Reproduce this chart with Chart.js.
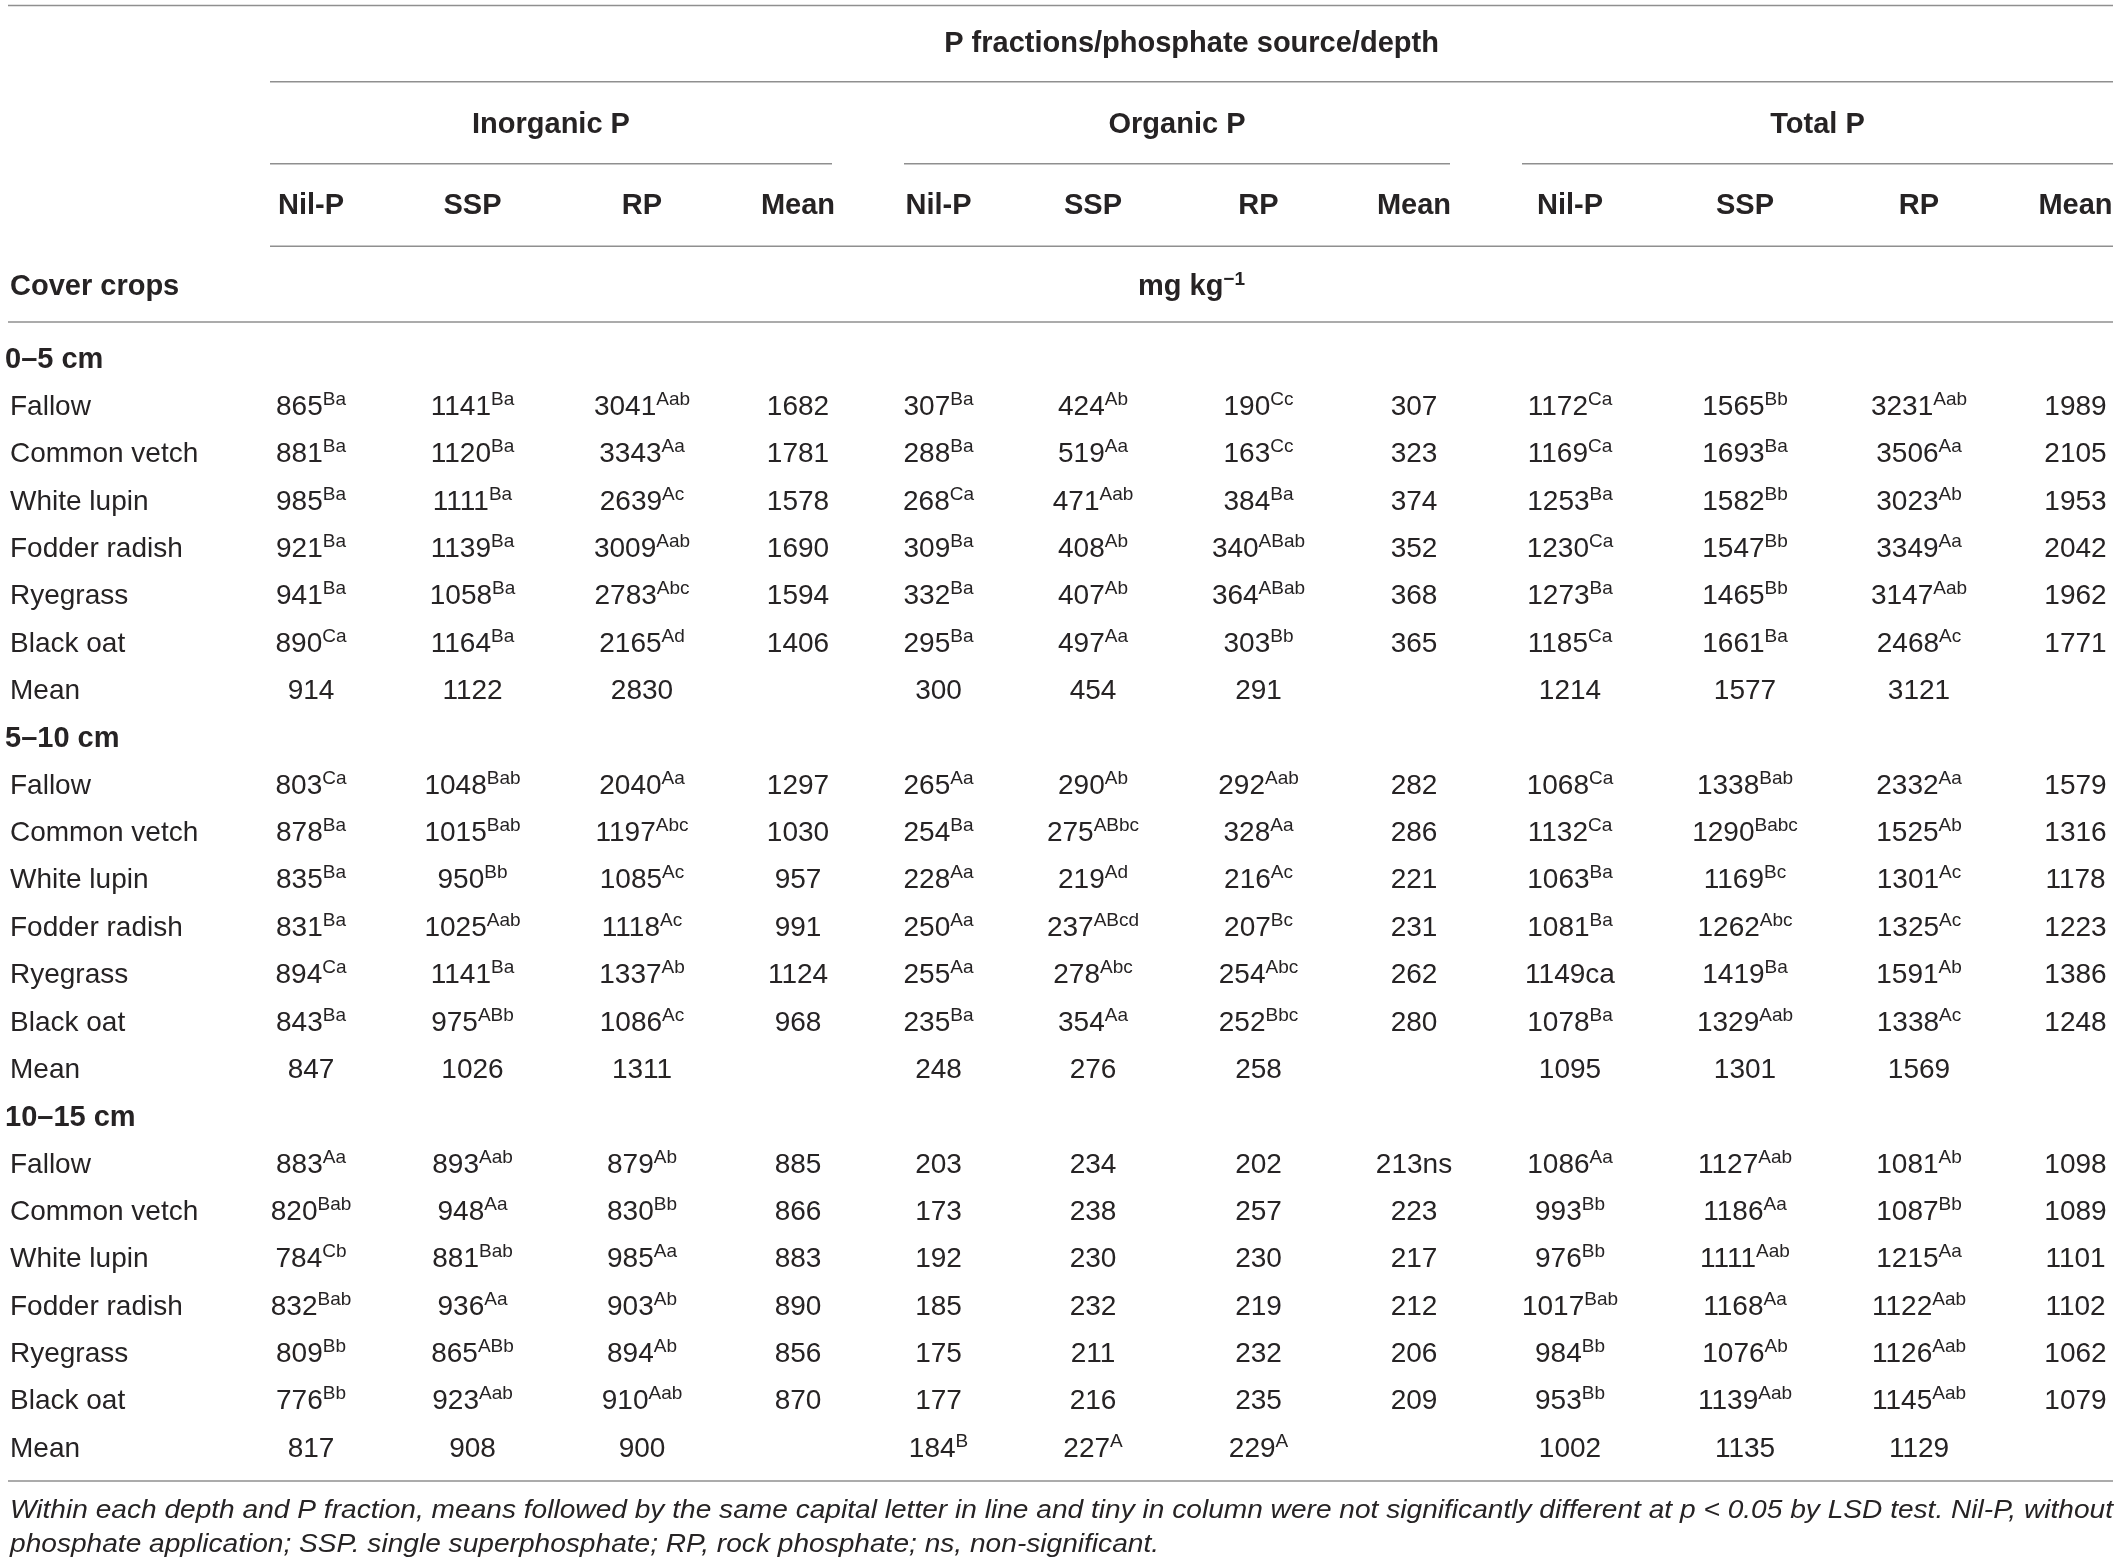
<!DOCTYPE html>
<html>
<head>
<meta charset="utf-8">
<title>P fractions by cover crop, phosphate source and depth</title>
<script src="https://cdn.jsdelivr.net/npm/chart.js@4.4.1/dist/chart.umd.min.js"></script>
<style>
  html, body { margin: 0; padding: 0; background: #fff; }
  #wrap { width: 2121px; height: 1567px; position: relative; }
</style>
</head>
<body>
<div id="wrap"><canvas id="table"></canvas></div>
<script>
// Table values as printed; "^" starts the superscript letters
const depths = ['0–5 cm', '5–10 cm', '10–15 cm'];
const crops = ['Fallow', 'Common vetch', 'White lupin', 'Fodder radish', 'Ryegrass', 'Black oat'];
const meanLabel = 'Mean';
const fractions = ['Inorganic P', 'Organic P', 'Total P'];
const sources = ['Nil-P', 'SSP', 'RP', 'Mean'];
const spanTitle = 'P fractions/phosphate source/depth';
const rowTitle = 'Cover crops';
const unitTitle = 'mg kg^\u22121';
const footnote = [
    'Within each depth and P fraction, means followed by the same capital letter in line and tiny in column were not significantly different at p < 0.05 by LSD test. Nil-P, without',
    'phosphate application; SSP. single superphosphate; RP, rock phosphate; ns, non-significant.'
];

// rows: the six crops, then Mean; columns: Nil-P, SSP, RP, Mean
const inorganic0to5 = [
    ['865^Ba', '1141^Ba', '3041^Aab', '1682'],
    ['881^Ba', '1120^Ba', '3343^Aa', '1781'],
    ['985^Ba', '1111^Ba', '2639^Ac', '1578'],
    ['921^Ba', '1139^Ba', '3009^Aab', '1690'],
    ['941^Ba', '1058^Ba', '2783^Abc', '1594'],
    ['890^Ca', '1164^Ba', '2165^Ad', '1406'],
    ['914', '1122', '2830', '']
];
const organic0to5 = [
    ['307^Ba', '424^Ab', '190^Cc', '307'],
    ['288^Ba', '519^Aa', '163^Cc', '323'],
    ['268^Ca', '471^Aab', '384^Ba', '374'],
    ['309^Ba', '408^Ab', '340^ABab', '352'],
    ['332^Ba', '407^Ab', '364^ABab', '368'],
    ['295^Ba', '497^Aa', '303^Bb', '365'],
    ['300', '454', '291', '']
];
const total0to5 = [
    ['1172^Ca', '1565^Bb', '3231^Aab', '1989'],
    ['1169^Ca', '1693^Ba', '3506^Aa', '2105'],
    ['1253^Ba', '1582^Bb', '3023^Ab', '1953'],
    ['1230^Ca', '1547^Bb', '3349^Aa', '2042'],
    ['1273^Ba', '1465^Bb', '3147^Aab', '1962'],
    ['1185^Ca', '1661^Ba', '2468^Ac', '1771'],
    ['1214', '1577', '3121', '']
];
const inorganic5to10 = [
    ['803^Ca', '1048^Bab', '2040^Aa', '1297'],
    ['878^Ba', '1015^Bab', '1197^Abc', '1030'],
    ['835^Ba', '950^Bb', '1085^Ac', '957'],
    ['831^Ba', '1025^Aab', '1118^Ac', '991'],
    ['894^Ca', '1141^Ba', '1337^Ab', '1124'],
    ['843^Ba', '975^ABb', '1086^Ac', '968'],
    ['847', '1026', '1311', '']
];
const organic5to10 = [
    ['265^Aa', '290^Ab', '292^Aab', '282'],
    ['254^Ba', '275^ABbc', '328^Aa', '286'],
    ['228^Aa', '219^Ad', '216^Ac', '221'],
    ['250^Aa', '237^ABcd', '207^Bc', '231'],
    ['255^Aa', '278^Abc', '254^Abc', '262'],
    ['235^Ba', '354^Aa', '252^Bbc', '280'],
    ['248', '276', '258', '']
];
const total5to10 = [
    ['1068^Ca', '1338^Bab', '2332^Aa', '1579'],
    ['1132^Ca', '1290^Babc', '1525^Ab', '1316'],
    ['1063^Ba', '1169^Bc', '1301^Ac', '1178'],
    ['1081^Ba', '1262^Abc', '1325^Ac', '1223'],
    ['1149ca', '1419^Ba', '1591^Ab', '1386'],
    ['1078^Ba', '1329^Aab', '1338^Ac', '1248'],
    ['1095', '1301', '1569', '']
];
const inorganic10to15 = [
    ['883^Aa', '893^Aab', '879^Ab', '885'],
    ['820^Bab', '948^Aa', '830^Bb', '866'],
    ['784^Cb', '881^Bab', '985^Aa', '883'],
    ['832^Bab', '936^Aa', '903^Ab', '890'],
    ['809^Bb', '865^ABb', '894^Ab', '856'],
    ['776^Bb', '923^Aab', '910^Aab', '870'],
    ['817', '908', '900', '']
];
const organic10to15 = [
    ['203', '234', '202', '213ns'],
    ['173', '238', '257', '223'],
    ['192', '230', '230', '217'],
    ['185', '232', '219', '212'],
    ['175', '211', '232', '206'],
    ['177', '216', '235', '209'],
    ['184^B', '227^A', '229^A', '']
];
const total10to15 = [
    ['1086^Aa', '1127^Aab', '1081^Ab', '1098'],
    ['993^Bb', '1186^Aa', '1087^Bb', '1089'],
    ['976^Bb', '1111^Aab', '1215^Aa', '1101'],
    ['1017^Bab', '1168^Aa', '1122^Aab', '1102'],
    ['984^Bb', '1076^Ab', '1126^Aab', '1062'],
    ['953^Bb', '1139^Aab', '1145^Aab', '1079'],
    ['1002', '1135', '1129', '']
];

// ---- layout: x in table units, y in row steps (row 0 = first depth heading) ----
const colX = [311, 472.5, 642, 798, 938.5, 1093, 1258.5, 1414, 1570, 1745, 1919, 2075.5];
const groupSpans = [[270, 832], [904, 1450], [1522, 2113]];
const fullSpan = [8, 2113];
const headSpan = [270, 2113];
const labelX = 10;
const depthX = 5;
const headRows = { span: -6.68, group: -4.95, source: -3.24, unit: -1.53 };
const ruleRows = { top: -7.43, span: -5.82, group: -4.09, source: -2.35, unit: -0.75, bottom: 23.72 };
const noteRows = [24.50, 25.22];

const FAMILY = "'Liberation Sans', Arial, Helvetica, sans-serif";
const SIZE = 28, BOLD_SIZE = 29, SUP_SIZE = 19, SUP_RISE = 10, NOTE_SIZE = 25;
const INK = '#262324';
const RULE = '#8f8f8f';

const byDepth = [
    [inorganic0to5, organic0to5, total0to5],
    [inorganic5to10, organic5to10, total5to10],
    [inorganic10to15, organic10to15, total10to15]
];

// row label datasets (depth headings, crops, Mean)
const labelPoints = [];
const depthPoints = [];
depths.forEach((depth, d) => {
    const base = d * 8;
    depthPoints.push({ x: depthX, y: base, text: depth });
    crops.concat([meanLabel]).forEach((name, r) => {
        labelPoints.push({ x: labelX, y: base + 1 + r, text: name });
    });
});

const datasets = [
    { data: depthPoints, align: 'left', bold: true },
    { data: labelPoints, align: 'left', bold: false }
];
fractions.forEach((fraction, f) => {
    sources.forEach((source, s) => {
        const j = f * 4 + s;
        const points = [];
        byDepth.forEach((tables, d) => {
            tables[f].forEach((row, r) => {
                if (row[s]) points.push({ x: colX[j], y: d * 8 + 1 + r, text: row[s] });
            });
        });
        datasets.push({ label: fraction + ' ' + source, data: points, align: 'center', bold: false });
    });
});
datasets.forEach(ds => {
    ds.pointRadius = 0;
    ds.pointHoverRadius = 0;
    ds.showLine = false;
});

function fontFor(bold, size) {
    return (bold ? 'bold ' : '') + size + 'px ' + FAMILY;
}

// draws "main^sup" with the superscript raised, centred or left-aligned on x
function drawCell(ctx, text, x, y, align, bold) {
    const parts = text.split('^');
    const main = parts[0], sup = parts[1] || '';
    const size = bold ? BOLD_SIZE : SIZE;
    const mainFont = fontFor(bold, size);
    const supFont = fontFor(bold, SUP_SIZE);
    ctx.font = mainFont;
    const w1 = ctx.measureText(main).width;
    let w2 = 0;
    if (sup) {
        ctx.font = supFont;
        w2 = ctx.measureText(sup).width;
    }
    const left = align === 'left' ? x : x - (w1 + w2) / 2;
    const base = y + size * 0.716 / 2;
    ctx.textAlign = 'left';
    ctx.textBaseline = 'alphabetic';
    ctx.fillStyle = INK;
    ctx.font = mainFont;
    ctx.fillText(main, left, base);
    if (sup) {
        ctx.font = supFont;
        ctx.fillText(sup, left + w1, base - SUP_RISE);
    }
}

const cellText = {
    id: 'cellText',
    afterDatasetsDraw(chart) {
        const ctx = chart.ctx;
        ctx.save();
        chart.data.datasets.forEach((ds, i) => {
            const meta = chart.getDatasetMeta(i);
            meta.data.forEach((pt, k) => {
                drawCell(ctx, ds.data[k].text, pt.x, pt.y, ds.align, ds.bold);
            });
        });
        ctx.restore();
    }
};

const tableFrame = {
    id: 'tableFrame',
    afterDatasetsDraw(chart) {
        const ctx = chart.ctx;
        const xs = chart.scales.x, ys = chart.scales.y;
        const px = v => xs.getPixelForValue(v);
        const py = v => ys.getPixelForValue(v);

        ctx.save();
        ctx.strokeStyle = RULE;
        ctx.lineWidth = 1.5;
        const rule = (span, row) => {
            ctx.beginPath();
            ctx.moveTo(px(span[0]), py(row));
            ctx.lineTo(px(span[1]), py(row));
            ctx.stroke();
        };
        rule(fullSpan, ruleRows.top);
        rule(headSpan, ruleRows.span);
        groupSpans.forEach(span => rule(span, ruleRows.group));
        rule(headSpan, ruleRows.source);
        rule(fullSpan, ruleRows.unit);
        rule(fullSpan, ruleRows.bottom);

        // header texts
        const mid = span => (px(span[0]) + px(span[1])) / 2;
        drawCell(ctx, spanTitle, mid(headSpan), py(headRows.span), 'center', true);
        fractions.forEach((fraction, f) => {
            drawCell(ctx, fraction, mid(groupSpans[f]), py(headRows.group), 'center', true);
        });
        colX.forEach((cx, j) => {
            drawCell(ctx, sources[j % 4], px(cx), py(headRows.source), 'center', true);
        });
        drawCell(ctx, rowTitle, px(labelX), py(headRows.unit), 'left', true);
        drawCell(ctx, unitTitle, mid(headSpan), py(headRows.unit), 'center', true);

        // footnote, fitted to the table width
        ctx.font = 'italic ' + NOTE_SIZE + 'px ' + FAMILY;
        ctx.fillStyle = INK;
        ctx.textAlign = 'left';
        ctx.textBaseline = 'alphabetic';
        const width = px(fullSpan[1]) - px(labelX);
        const sx = width / ctx.measureText(footnote[0]).width;
        footnote.forEach((line, i) => {
            ctx.save();
            ctx.translate(px(labelX), py(noteRows[i]));
            ctx.scale(sx, 1);
            ctx.fillText(line, 0, 0);
            ctx.restore();
        });
        ctx.restore();
    }
};

// y range chosen so row 0 sits at the first depth heading and rows are evenly spaced
const rowStep = 47.36;
const yMin = -357.5 / rowStep;
const yMax = (1567 - 357.5) / rowStep;

new Chart(document.getElementById('table'), {
    type: 'scatter',
    data: { datasets: datasets },
    options: {
        responsive: true,
        maintainAspectRatio: false,
        animation: false,
        events: [],
        layout: { padding: 0 },
        scales: {
            x: { type: 'linear', min: 0, max: 2121, display: false },
            y: { type: 'linear', min: yMin, max: yMax, reverse: true, display: false }
        },
        plugins: {
            legend: { display: false },
            tooltip: { enabled: false }
        }
    },
    plugins: [cellText, tableFrame]
});
</script>
</body>
</html>
